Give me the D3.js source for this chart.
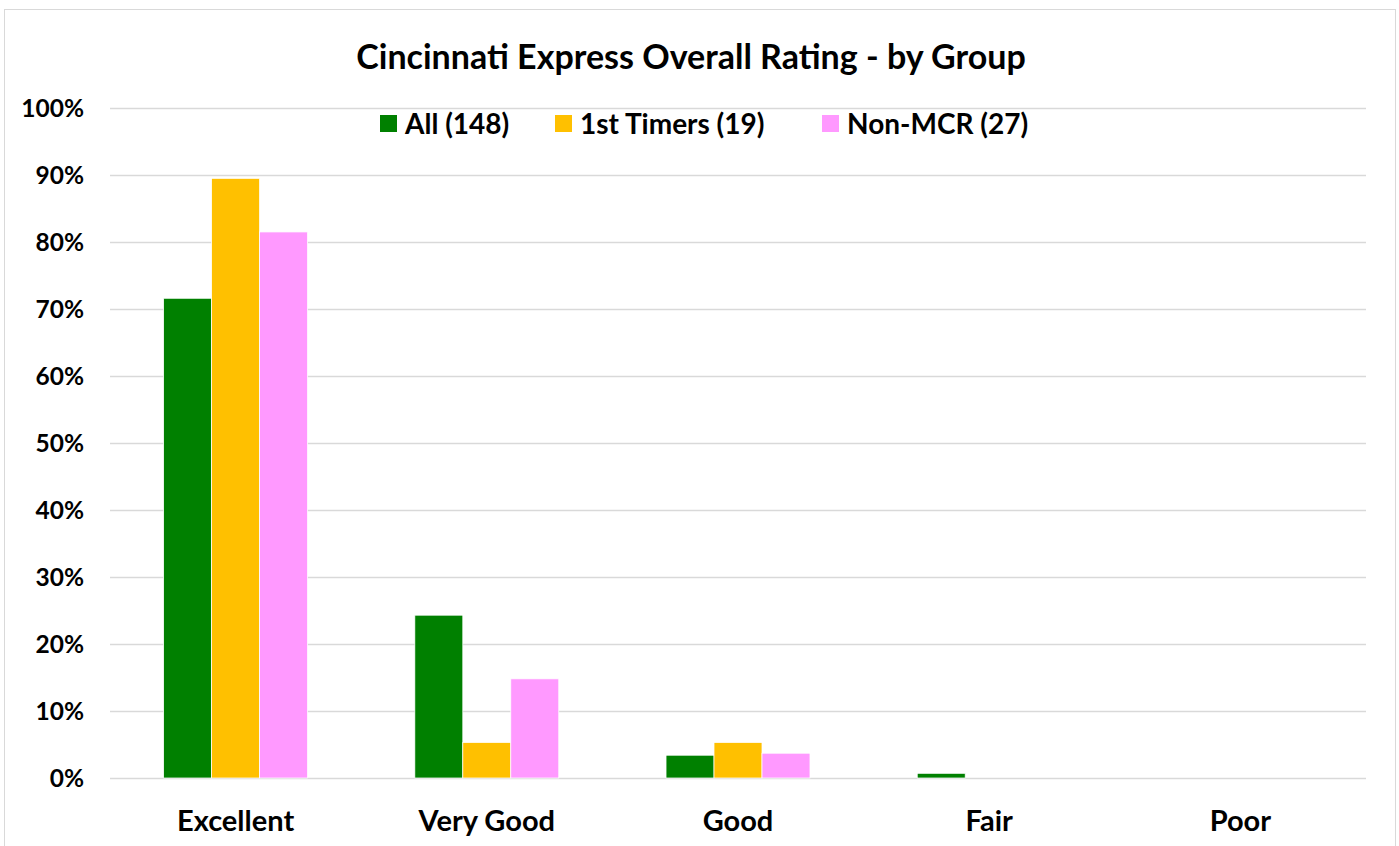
<!DOCTYPE html>
<html>
<head>
<meta charset="utf-8">
<script src="https://cdn.jsdelivr.net/npm/d3@7"></script>
<style>
  body { margin: 0; background: #fff; }
  text { font-family: Lato, "Liberation Sans", sans-serif; font-weight: bold; fill: #000; }
</style>
</head>
<body>
<div id="chart"></div>
<script>
// data
var categories = ["Excellent", "Very Good", "Good", "Fair", "Poor"];
var seriesNames = ["All (148)", "1st Timers (19)", "Non-MCR (27)"];
var allValues = [0.716, 0.243, 0.034, 0.007, 0];
var firstTimerValues = [0.895, 0.053, 0.053, 0, 0];
var nonMcrValues = [0.815, 0.148, 0.037, 0, 0];
var yTicks = [0, 0.1, 0.2, 0.3, 0.4, 0.5, 0.6, 0.7, 0.8, 0.9, 1.0];
var colors = ["#008000", "#FFC000", "#FF99FF"];

var width = 1399, height = 846;
var margin = {top: 108, right: 33, bottom: 68, left: 110};

var svg = d3.select("#chart").append("svg")
    .attr("width", width)
    .attr("height", height);

// outer border
svg.append("rect")
    .attr("x", 4.5).attr("y", 9.5)
    .attr("width", 1391).attr("height", 850)
    .attr("fill", "none")
    .attr("stroke", "#d9d9d9");

var x0 = d3.scaleBand()
    .domain(categories)
    .range([margin.left, width - margin.right]);

var groupW = x0.bandwidth() * 0.573;
var x1 = d3.scaleBand()
    .domain(seriesNames)
    .range([(x0.bandwidth() - groupW) / 2, (x0.bandwidth() + groupW) / 2]);

var y = d3.scaleLinear()
    .domain([0, 1])
    .range([height - margin.bottom, margin.top]);

// gridlines
svg.append("g").selectAll("line")
    .data(yTicks)
    .enter().append("line")
    .attr("x1", margin.left).attr("x2", width - margin.right)
    .attr("y1", function(d) { return Math.round(y(d)) + 0.5; })
    .attr("y2", function(d) { return Math.round(y(d)) + 0.5; })
    .attr("stroke", "#d9d9d9")
    .attr("stroke-width", 1.5);

// y labels
svg.append("g").selectAll("text")
    .data(yTicks)
    .enter().append("text")
    .attr("x", 84)
    .attr("y", function(d) { return y(d); })
    .attr("dy", "0.36em")
    .attr("text-anchor", "end")
    .style("font-size", "24.5px")
    .text(d3.format(".0%"));

// bars
var table = categories.map(function(c, i) {
  return {cat: c, vals: [allValues[i], firstTimerValues[i], nonMcrValues[i]]};
});

var groups = svg.append("g").selectAll("g")
    .data(table)
    .enter().append("g")
    .attr("transform", function(d) { return "translate(" + x0(d.cat) + ",0)"; });

groups.selectAll("rect")
    .data(function(d) { return d.vals.map(function(v, j) { return {name: seriesNames[j], v: v, j: j}; }); })
    .enter().append("rect")
    .attr("x", function(d) { return x1(d.name); })
    .attr("width", x1.bandwidth())
    .attr("y", function(d) { return y(d.v); })
    .attr("height", function(d) { return y(0) - y(d.v); })
    .attr("fill", function(d) { return colors[d.j]; })
    .attr("stroke", "#fff")
    .attr("stroke-width", function(d) { return d.v > 0 ? 0.75 : 0; });

// x labels
svg.append("g").selectAll("text")
    .data(categories)
    .enter().append("text")
    .attr("x", function(d) { return x0(d) + x0.bandwidth() / 2; })
    .attr("y", 831)
    .attr("text-anchor", "middle")
    .style("font-size", "29px")
    .text(function(d) { return d; });

// title
svg.append("text")
    .attr("x", 691)
    .attr("y", 69)
    .attr("text-anchor", "middle")
    .style("font-size", "34px")
    .text("Cincinnati Express Overall Rating - by Group");

// legend
var legendX = [380, 555, 822];
var legend = svg.append("g").selectAll("g")
    .data(seriesNames)
    .enter().append("g")
    .attr("transform", function(d, i) { return "translate(" + legendX[i] + ",115)"; });

legend.append("rect")
    .attr("width", 17).attr("height", 17)
    .attr("fill", function(d, i) { return colors[i]; });

legend.append("text")
    .attr("x", 25)
    .attr("y", 18.5)
    .style("font-size", "28px")
    .text(function(d) { return d; });
</script>
</body>
</html>
